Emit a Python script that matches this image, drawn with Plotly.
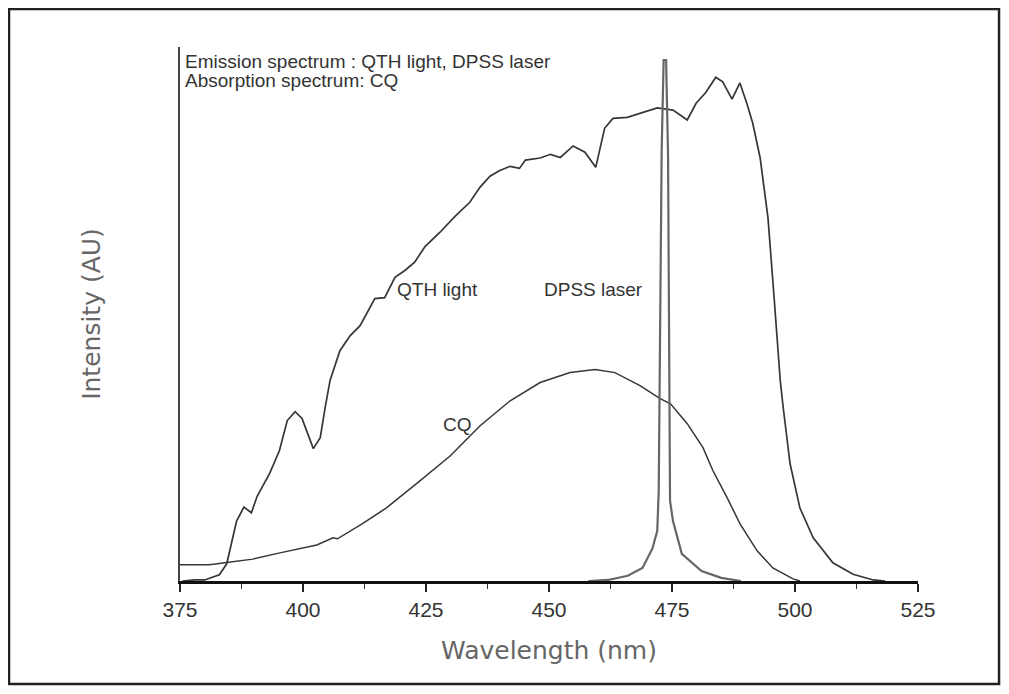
import plotly.graph_objects as go

# QTH lamp emission (wavelength nm, relative intensity)
qth_wl = [375.5, 378, 380, 383, 384.5, 385.5, 386.5, 388, 389.5, 390.7, 393.2, 395.2,
          396.8, 398.4, 399.8, 402.1, 403.5, 404.5, 405.5, 407.5, 409.6, 411.6, 413.3,
          414.6, 416.6, 417.7, 418.7, 420.7, 422.7, 424.8, 427.8, 430.9, 433.9, 436,
          438, 440, 442.1, 444, 445.2, 448.2, 450.3, 452.3, 454.9, 457.3, 459.5, 461.3,
          463, 465.9, 469.1, 472, 475.2, 478.1, 479.9, 481.9, 483.9, 485.3, 487.2,
          488.8, 490.2, 491.4, 492.9, 494.5, 495.8, 497, 497.6, 499, 501, 503.7, 507.7,
          511.8, 515.9, 518.3]
qth_int = [0.0, 0.002, 0.002, 0.012, 0.033, 0.075, 0.115, 0.142, 0.131, 0.163, 0.206,
           0.25, 0.308, 0.325, 0.312, 0.254, 0.275, 0.333, 0.385, 0.442, 0.471, 0.49,
           0.519, 0.542, 0.544, 0.563, 0.583, 0.596, 0.612, 0.642, 0.669, 0.7, 0.727,
           0.756, 0.777, 0.788, 0.796, 0.792, 0.808, 0.812, 0.819, 0.813, 0.835, 0.823,
           0.794, 0.869, 0.888, 0.89, 0.9, 0.908, 0.904, 0.885, 0.917, 0.938, 0.967,
           0.958, 0.925, 0.956, 0.917, 0.879, 0.813, 0.698, 0.538, 0.385, 0.333, 0.225,
           0.14, 0.083, 0.035, 0.013, 0.002, 0.0]

# CQ absorption
cq_wl = [375, 381, 384.1, 389.8, 395.3, 400, 402.8, 406.1, 407, 412.1, 416.9, 423.2,
         429.9, 436, 442.1, 448.2, 454.3, 459.4, 463.4, 468.5, 472.6, 474.7, 478.1,
         481.3, 483.3, 486.2, 488.8, 492.3, 495.5, 499.6, 501]
cq_int = [0.031, 0.031, 0.035, 0.042, 0.054, 0.063, 0.069, 0.083, 0.081, 0.11, 0.14,
          0.188, 0.24, 0.298, 0.346, 0.381, 0.4, 0.406, 0.4, 0.375, 0.35, 0.34, 0.302,
          0.256, 0.212, 0.16, 0.11, 0.058, 0.025, 0.004, 0.0]

# DPSS laser emission
laser_wl = [458, 462, 466, 469, 471, 472, 472.3, 472.5, 472.9, 473.3, 473.8, 474.2,
            474.4, 474.6, 475.2, 477, 481, 485, 489]
laser_int = [0.0, 0.002, 0.01, 0.025, 0.062, 0.096, 0.173, 0.385, 0.827, 1.0, 1.0,
             0.817, 0.385, 0.154, 0.115, 0.052, 0.019, 0.006, 0.0]

x_ticks = [375, 400, 425, 450, 475, 500, 525]

line_col = "#363636"
txt_font = dict(family="Liberation Sans, Arial", size=19, color="#333")
title_font = dict(family="DejaVu Sans, Arial", size=25, color="#666")

fig = go.Figure()
fig.add_trace(go.Scatter(x=qth_wl, y=qth_int, mode="lines",
                         line=dict(color=line_col, width=1.7)))
fig.add_trace(go.Scatter(x=cq_wl, y=cq_int, mode="lines",
                         line=dict(color=line_col, width=1.5)))
fig.add_trace(go.Scatter(x=laser_wl, y=laser_int, mode="lines",
                         line=dict(color="#666", width=2.2)))

# labels
fig.add_annotation(x=375.6, y=0.998, text="Emission spectrum : QTH light, DPSS laser",
                   xanchor="left", showarrow=False, font=txt_font)
fig.add_annotation(x=375.6, y=0.960, text="Absorption spectrum: CQ",
                   xanchor="left", showarrow=False, font=txt_font)
fig.add_annotation(x=427.4, y=0.559, text="QTH light", showarrow=False, font=txt_font)
fig.add_annotation(x=459.1, y=0.559, text="DPSS laser", showarrow=False, font=txt_font)
fig.add_annotation(x=431.3, y=0.30, text="CQ", showarrow=False, font=txt_font)

# outer picture frame (page has an 8px body margin, figure kept inside the window)
fig.add_shape(type="rect", xref="paper", yref="paper",
              x0=-0.2317, x1=1.1098, y0=-0.1929, y1=1.0712,
              line=dict(color="#222", width=2.5), fillcolor="white", layer="below")

fig.update_layout(
    width=993, height=678,
    margin=dict(l=172, r=83, t=39, b=105),
    paper_bgcolor="white", plot_bgcolor="rgba(0,0,0,0)",
    showlegend=False,
)

fig.update_xaxes(
    range=[375, 525], tickvals=x_ticks, showgrid=False, zeroline=False,
    showline=True, linecolor="#111", linewidth=3,
    ticks="outside", ticklen=8, tickwidth=1.5, tickcolor="#222",
    minor=dict(ticks="outside", ticklen=5, tickwidth=1.2, tickcolor="#333",
               tick0=375, dtick=12.5),
    tickfont=dict(family="Liberation Sans Narrow, Liberation Sans, Arial", size=21, color="#333"),
    title=dict(text="Wavelength (nm)", standoff=22, font=title_font),
)
fig.update_yaxes(
    range=[0, 1.025], showgrid=False, zeroline=False, showticklabels=False,
    showline=True, linecolor="#444", linewidth=2, ticks="",
    automargin=False,
    title=dict(text="Intensity (AU)", standoff=70, font=title_font),
)

fig.write_html("out.html")
